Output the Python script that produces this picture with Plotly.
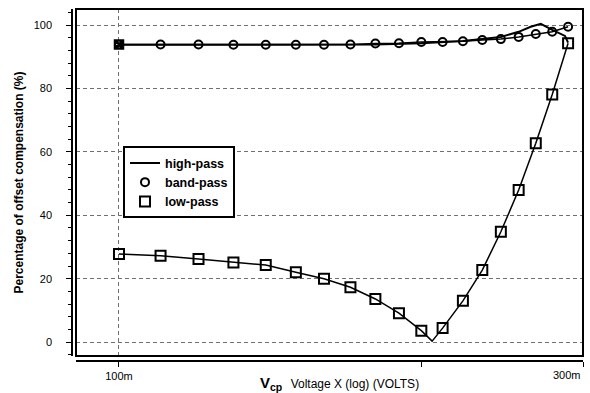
import plotly.graph_objects as go

# Data (x in volts, y in %)
v_marks = [0.10, 0.11, 0.12, 0.13, 0.14, 0.15, 0.16, 0.17, 0.18, 0.19,
           0.20, 0.21, 0.22, 0.23, 0.24, 0.25, 0.26, 0.27, 0.28]
band_pass = [93.9, 93.9, 93.9, 93.8, 93.8, 93.8, 93.8, 93.9, 94.2, 94.3,
             94.7, 94.7, 94.9, 95.3, 95.6, 96.3, 97.2, 97.9, 99.5]
low_pass = [27.8, 27.2, 26.2, 25.1, 24.3, 22.0, 20.0, 17.3, 13.6, 9.1,
            3.6, 4.4, 13.0, 22.7, 34.8, 48.0, 62.7, 78.1, 94.3]
low_line_v = [0.10, 0.11, 0.12, 0.13, 0.14, 0.15, 0.16, 0.17, 0.18, 0.19,
              0.20, 0.205, 0.21, 0.22, 0.23, 0.24, 0.25, 0.26, 0.27, 0.28]
low_line = [27.8, 27.2, 26.2, 25.1, 24.3, 22.0, 20.0, 17.3, 13.6, 9.1,
            3.6, 0.3, 4.4, 13.0, 22.7, 34.8, 48.0, 62.7, 78.1, 94.3]
high_v = [0.10, 0.15, 0.18, 0.20, 0.22, 0.24, 0.25, 0.257, 0.263, 0.27, 0.278, 0.28]
high_pass = [93.8, 93.8, 93.9, 94.3, 95.0, 96.3, 97.9, 99.5, 100.4, 98.5, 96.6, 94.5]

y_ticks = [0, 20, 40, 60, 80, 100]
x_tick_vals = [0.1]
x_tick_text = ["100m"]

X_MIN_LOG = -1.0428
X_MAX_LOG = -0.538

fig = go.Figure()

fig.add_trace(go.Scatter(x=high_v, y=high_pass, mode="lines", name="high-pass",
                         line=dict(color="black", width=2)))
fig.add_trace(go.Scatter(x=v_marks, y=band_pass, mode="lines", showlegend=False,
                         line=dict(color="black", width=1.5), hoverinfo="skip"))
fig.add_trace(go.Scatter(x=v_marks[1:], y=band_pass[1:], mode="markers", name="band-pass",
                         marker=dict(symbol="circle-open", size=8, color="black",
                                     line=dict(color="black", width=2))))
fig.add_trace(go.Scatter(x=v_marks[:1], y=band_pass[:1], mode="markers", showlegend=False,
                         marker=dict(symbol="square-x-open", size=8, color="black",
                                     line=dict(color="black", width=2.5))))
fig.add_trace(go.Scatter(x=low_line_v, y=low_line, mode="lines", showlegend=False,
                         line=dict(color="black", width=1.5), hoverinfo="skip"))
fig.add_trace(go.Scatter(x=v_marks, y=low_pass, mode="markers", name="low-pass",
                         marker=dict(symbol="square-open", size=10, color="black",
                                     line=dict(color="black", width=2))))

grid = dict(gridcolor="#707070", gridwidth=1, griddash="4px,3px")

fig.update_layout(
    width=590, height=393,
    margin=dict(l=72, r=7, t=9, b=32),
    paper_bgcolor="white", plot_bgcolor="white",
    font=dict(family="Liberation Sans, Arial, sans-serif", color="black"),
    xaxis=dict(type="log", range=[X_MIN_LOG, X_MAX_LOG], domain=[4 / 511, 1],
               anchor="free", position=0,
               showline=True, linecolor="black", linewidth=1.5,
               ticks="outside", ticklen=5, tickcolor="black",
               tickvals=x_tick_vals, ticktext=x_tick_text,
               tickfont=dict(size=11), zeroline=False,
               minor=dict(tickvals=[0.2, 10 ** X_MAX_LOG], ticks="outside", ticklen=5,
                          tickcolor="black", showgrid=False),
               **grid),
    yaxis=dict(range=[-4.4, 105.1], domain=[5 / 352, 1],
               anchor="free", position=0,
               showline=True, linecolor="black", linewidth=1.5,
               ticks="outside", ticklen=5, tickcolor="black",
               tickvals=y_ticks, tickfont=dict(size=11), ticklabelstandoff=12,
               zeroline=False,
               minor=dict(dtick=4, ticks="outside", ticklen=3, tickcolor="black", showgrid=False),
               title=dict(text="<b>Percentage of offset compensation (%)</b>",
                          font=dict(size=12), standoff=6),
               **grid),
    legend=dict(x=0.0998, y=0.61, xanchor="left", yanchor="top",
                bgcolor="white", bordercolor="black", borderwidth=2,
                font=dict(size=12.5, family="Liberation Sans, Arial, sans-serif", weight="bold"),
                tracegroupgap=0, itemwidth=30),
    showlegend=True,
)

# plot frame
fig.add_shape(type="rect", xref="x domain", yref="y domain", x0=0, x1=1, y0=0, y1=1,
              line=dict(color="black", width=2), layer="above")

fig.add_annotation(text="300m", xref="paper", yref="paper", x=1, y=-0.04,
                   xanchor="right", yanchor="middle", showarrow=False,
                   font=dict(size=11))
fig.add_annotation(text="<b>V<sub>cp</sub></b>  <span style='font-size:12px'>Voltage X (log) (VOLTS)</span>",
                   xref="paper", yref="paper", x=0.524, y=-0.065,
                   xanchor="center", yanchor="middle", showarrow=False,
                   font=dict(size=15))

fig.write_html("out.html")
